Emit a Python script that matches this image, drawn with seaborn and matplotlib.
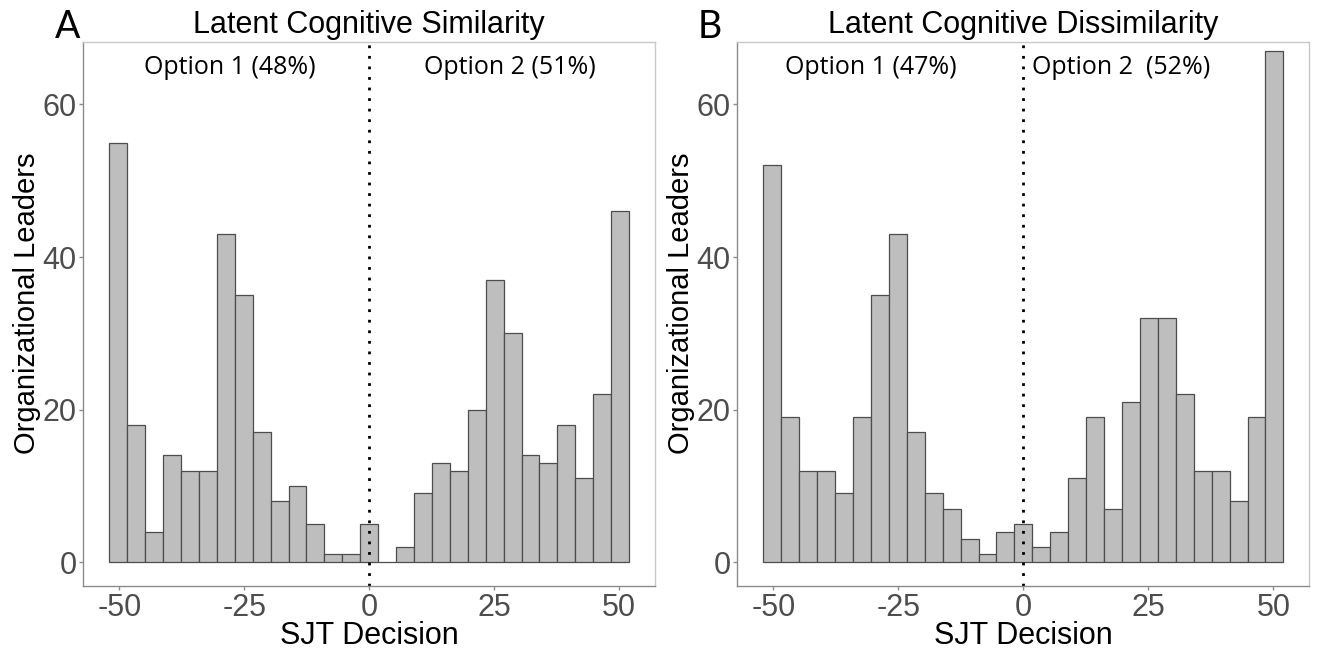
import matplotlib
matplotlib.use("Agg")
import numpy as np
import pandas as pd
import matplotlib.pyplot as plt
import seaborn as sns

# counts per bin (29 bins from -52 to 52)
counts_similarity = [55, 18, 4, 14, 12, 12, 43, 35, 17, 8, 10, 5, 1, 1, 5,
                     0, 2, 9, 13, 12, 20, 37, 30, 14, 13, 18, 11, 22, 46]
counts_dissimilarity = [52, 19, 12, 12, 9, 19, 35, 43, 17, 9, 7, 3, 1, 4, 5,
                        2, 4, 11, 19, 7, 21, 32, 32, 22, 12, 12, 8, 19, 67]

titles = ["Latent Cognitive Similarity", "Latent Cognitive Dissimilarity"]
panel_letters = ["A", "B"]
option1_labels = ["Option 1 (48%)", "Option 1 (47%)"]
option2_labels = ["Option 2 (51%)", "Option 2  (52%)"]
x_ticks = [-50, -25, 0, 25, 50]
y_ticks = [0, 20, 40, 60]

edges = np.linspace(-52, 52, len(counts_similarity) + 1)
centers = (edges[:-1] + edges[1:]) / 2

sns.set_style("white")
plt.rcParams["font.family"] = ["Liberation Sans", "DejaVu Sans"]
plt.rcParams["axes.unicode_minus"] = False

fig = plt.figure(figsize=(13.19, 6.49), dpi=100)
ax_a = fig.add_axes([0.0632, 0.0975, 0.4334, 0.8373])
ax_b = fig.add_axes([0.559, 0.0975, 0.4337, 0.8373])

panels = [(ax_a, counts_similarity), (ax_b, counts_dissimilarity)]
opt_pos = [(-45, 11), (-47.6, 1.8)]
letter_x = [68, 710]

for i, (ax, counts) in enumerate(panels):
    df = pd.DataFrame({"sjt": centers, "n": counts})
    sns.histplot(data=df, x="sjt", weights="n", bins=edges.tolist(), ax=ax,
                 color="#BEBEBE", edgecolor="#4D4D4D", linewidth=0.9, alpha=1)
    ax.axvline(0, color="black", linestyle=(0, (1, 2.8)), linewidth=2)

    ax.set_xlim(-57.2, 57.2)
    ax.set_ylim(-3.1, 68.15)
    ax.set_xticks(x_ticks)
    ax.set_yticks(y_ticks)
    ax.tick_params(axis="both", labelsize=22, labelcolor="#4D4D4D",
                   color="#8C8C8C", length=3, width=1, pad=2,
                   bottom=True, left=True)
    ax.set_xlabel("SJT Decision", fontsize=22, color="black", labelpad=-1)
    ax.set_ylabel("Organizational Leaders", fontsize=21, color="black")
    ax.yaxis.set_label_coords(-0.074, 0.52)

    for side in ["top", "right"]:
        ax.spines[side].set_color("#C8C8C8")
        ax.spines[side].set_linewidth(1)
    for side in ["left", "bottom"]:
        ax.spines[side].set_color("#8C8C8C")
        ax.spines[side].set_linewidth(1)

    ax.text(0.5, 1.0 + 9 / 543.4, titles[i], transform=ax.transAxes,
            ha="center", va="baseline", fontsize=22, color="black")

    ax.text(opt_pos[i][0], 64, option1_labels[i], ha="left", va="baseline",
            fontsize=18, family=["Open Sans", "DejaVu Sans"], color="black")
    ax.text(opt_pos[i][1], 64, option2_labels[i], ha="left", va="baseline",
            fontsize=18, family=["Open Sans", "DejaVu Sans"], color="black")

    fig.text(letter_x[i] / 1319, 1 - 38.3 / 649, panel_letters[i],
             ha="center", va="baseline", fontsize=27,
             family=["Lato", "DejaVu Sans"], color="black")

fig.savefig("out.png", dpi=100)
